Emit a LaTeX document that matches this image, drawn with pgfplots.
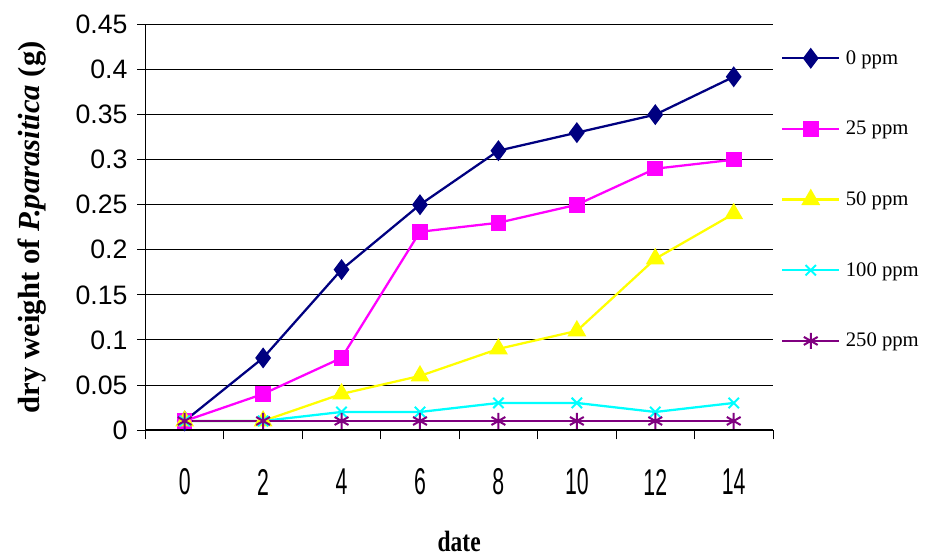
\documentclass[border=0pt]{standalone}
\usepackage{fontspec}
\setmainfont{Liberation Serif}
\setsansfont{Liberation Sans}
\usepackage{graphicx}
\usepackage{pgfplots}
\usepackage{pgfplotstable}
\pgfplotsset{compat=1.18}

\definecolor{cNavy}{RGB}{0,0,128}
\definecolor{cMag}{RGB}{255,0,255}
\definecolor{cYel}{RGB}{255,255,0}
\definecolor{cCyan}{RGB}{0,255,255}
\definecolor{cPurp}{RGB}{128,0,128}

% dry weight (g) per sampling day; day index 0..7 = 0,2,...,14
\pgfplotstableread{
idx  p0     p25   p50   p100  p250
0    0.010  0.010 0.010 0.010 0.010
1    0.080  0.040 0.010 0.010 0.010
2    0.178  0.080 0.040 0.020 0.010
3    0.250  0.220 0.060 0.020 0.010
4    0.310  0.230 0.090 0.030 0.010
5    0.330  0.250 0.110 0.030 0.010
6    0.350  0.290 0.190 0.020 0.010
7    0.392  0.300 0.240 0.030 0.010
}\drydata

\newcommand\xl[1]{\scalebox{0.57}[1]{#1}}

\begin{document}
\begin{tikzpicture}
\useasboundingbox (0,0) rectangle (694.5pt,419.25pt);
\begin{axis}[
  at={(109.1pt,96.75pt)}, anchor=south west,
  scale only axis, width=470.6pt, height=304.1pt,
  xmin=-0.5, xmax=7.5, ymin=0, ymax=0.45,
  axis x line*=bottom, axis y line*=left,
  axis line style={black, line width=0.8pt, -},
  tick align=outside,
  xtick={0,...,7},
  xticklabels={\xl{0},\xl{2},\xl{4},\xl{6},\xl{8},\xl{10},\xl{12},\xl{14}},
  minor xtick={-0.5,0.5,...,7.5},
  major x tick style={draw=none},
  minor x tick style={black, line width=0.6pt},
  major tick length=6pt,
  minor tick length=7pt,
  ytick={0,0.05,...,0.45},
  yticklabels={0,0.05,0.1,0.15,0.2,0.25,0.3,0.35,0.4,0.45},
  y tick style={black, line width=0.6pt},
  ymajorgrids,
  major grid style={black, line width=0.6pt},
  xticklabel style={font=\fontsize{28}{30}\selectfont\sffamily, anchor=center, yshift=-33pt},
  yticklabel style={font=\fontsize{20}{24}\selectfont\sffamily, anchor=east, xshift=-4pt},
  xlabel={\scalebox{0.8}[1]{date}},
  xlabel style={font=\fontsize{22}{26}\selectfont\bfseries, at={(axis description cs:0.5,-0.275)}, anchor=center},
  ylabel={dry weight of \textit{P.parasitica} (g)},
  ylabel style={font=\fontsize{23}{26}\selectfont\bfseries, at={(axis description cs:-0.181,0.5)}, anchor=center},
  legend style={at={(axis description cs:1.006,0.95)}, anchor=north west,
    draw=none, fill=none, font=\fontsize{15.5}{18}\selectfont, row sep=37.2pt,
    cells={anchor=west}},
  legend image code/.code={\draw[mark repeat=2,mark phase=2] plot coordinates {(0pt,0pt) (21.5pt,0pt) (43pt,0pt)};},
  every axis plot/.append style={line width=1.7pt, mark options={solid}},
]
\addplot[color=cNavy, mark=diamond*, mark size=6.5pt, mark options={fill=cNavy}] table[x=idx,y=p0]{\drydata};
\addlegendentry{\hspace{2pt}0 ppm}
\addplot[color=cMag, mark=square*, mark size=5pt, mark options={fill=cMag}] table[x=idx,y=p25]{\drydata};
\addlegendentry{\hspace{2pt}25 ppm}
\addplot[color=cYel, mark=triangle*, mark size=6.5pt, mark options={fill=cYel}] table[x=idx,y=p50]{\drydata};
\addlegendentry{\hspace{2pt}50 ppm}
\addplot[color=cCyan, mark=x, mark size=5.5pt, mark options={line width=1.5pt}] table[x=idx,y=p100]{\drydata};
\addlegendentry{\hspace{2pt}100 ppm}
\addplot[color=cPurp, mark=asterisk, mark size=6pt, mark options={line width=1.5pt}] table[x=idx,y=p250]{\drydata};
\addlegendentry{\hspace{2pt}250 ppm}
\end{axis}
\end{tikzpicture}
\end{document}
